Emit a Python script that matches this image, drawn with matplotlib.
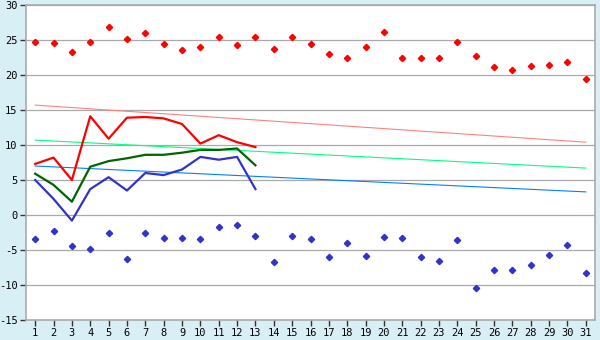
import matplotlib
matplotlib.use("Agg")
import matplotlib.pyplot as plt
import numpy as np

plt.rcParams["axes.unicode_minus"] = False

# data
days = list(range(1, 32))
rec_max = [24.7, 24.6, 23.3, 24.7, 26.9, 25.1, 26.0, 24.4, 23.6, 24.0,
           25.4, 24.3, 25.4, 23.7, 25.4, 24.4, 23.0, 22.4, 24.0, 26.1,
           22.4, 22.5, 22.4, 24.7, 22.7, 21.1, 20.7, 21.3, 21.5, 21.8, 19.4]
rec_min = [-3.4, -2.3, -4.4, -4.9, -2.6, -6.3, -2.6, -3.3, -3.3, -3.4,
           -1.7, -1.4, -3.0, -6.7, -3.0, -3.4, -6.0, -4.0, -5.9, -3.1,
           -3.3, -6.0, -6.6, -3.6, -10.4, -7.9, -7.9, -7.1, -5.7, -4.3, -8.3]
cur_days = list(range(1, 14))
cur_max = [7.3, 8.2, 5.0, 14.1, 10.9, 13.9, 14.0, 13.8, 13.0, 10.2, 11.4, 10.4, 9.7]
cur_mean = [5.9, 4.3, 1.9, 6.9, 7.7, 8.1, 8.6, 8.6, 8.9, 9.3, 9.3, 9.5, 7.1]
cur_min = [5.0, 2.3, -0.8, 3.7, 5.4, 3.5, 6.0, 5.7, 6.5, 8.3, 7.9, 8.3, 3.7]
# normal values, start and end of month
norm_max = [15.7, 10.4]
norm_mean = [10.7, 6.7]
norm_min = [7.0, 3.3]

bg = "#d9eff6"
fig = plt.figure(figsize=(6, 3.4), dpi=100, facecolor=bg)
ax = fig.add_axes([26 / 600, 20 / 340, 569 / 600, 315 / 340])
ax.set_facecolor("white")

ends = [days[0], days[-1]]
ax.plot(ends, norm_max, color="#ff8080", lw=0.8)
ax.plot(ends, norm_mean, color="#00ff80", lw=0.8)
ax.plot(ends, norm_min, color="#0080ff", lw=0.8)

ax.plot(cur_days, cur_max, color="#ff0000", lw=1.6)
ax.plot(cur_days, cur_mean, color="#006400", lw=1.6)
ax.plot(cur_days, cur_min, color="#3333cc", lw=1.6)

ax.plot(days, rec_max, ls="none", marker="D", ms=3.2, color="#ff0000")
ax.plot(days, rec_min, ls="none", marker="D", ms=3.2, color="#3333cc")

ax.set_xlim(0.5, 31.5)
ax.set_ylim(-15, 30)
ax.set_xticks(days)
ax.set_yticks(range(-15, 31, 5))
ax.grid(axis="y", color="#aaaaaa", lw=0.9)
ax.set_axisbelow(True)
for s in ax.spines.values():
    s.set_color("#aaaaaa")
    s.set_linewidth(1.2)
ax.tick_params(direction="out", length=4, width=1, color="#333333",
               labelsize=7.5, pad=2)
for lab in ax.get_xticklabels() + ax.get_yticklabels():
    lab.set_family("DejaVu Sans Mono")

fig.savefig("out.png", dpi=100, facecolor=bg)
